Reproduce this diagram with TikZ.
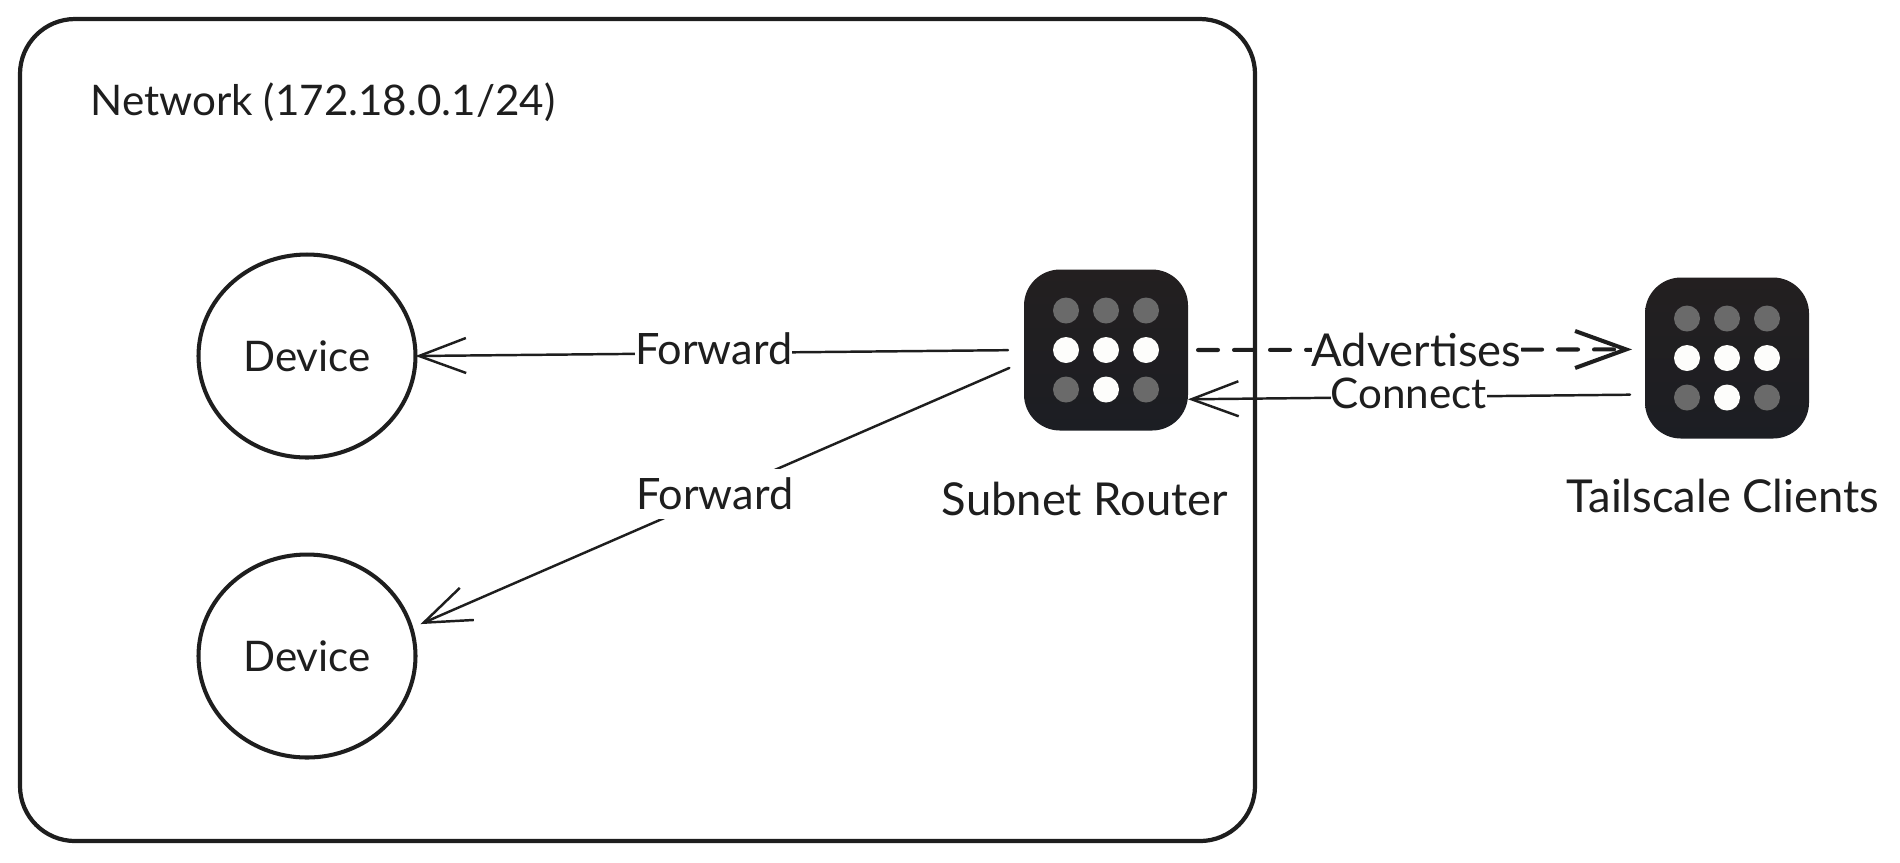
\documentclass[tikz,border=0pt]{standalone}
\usepackage{xcolor}
\usepackage{fontspec}
\setmainfont{Lato}
\usetikzlibrary{arrows.meta,positioning,shapes.geometric}

\definecolor{inkgray}{HTML}{1E1E1E}
\definecolor{dimdot}{HTML}{6A6A6A}
\definecolor{litdot}{HTML}{FDFDFB}
\definecolor{icontop}{HTML}{231F20}
\definecolor{iconbottom}{HTML}{1C1E23}

\tikzset{
  netbox/.style={draw=inkgray, line width=1.2pt, rounded corners=0.55cm, minimum width=12.35cm, minimum height=8.22cm, inner sep=0pt, outer sep=0pt},
  device/.style={draw=inkgray, line width=1.15pt, ellipse, minimum width=2.17cm, minimum height=2.03cm, inner sep=0pt, outer sep=0pt, font=\fontsize{12}{14}\selectfont, text=inkgray},
  icon/.style={rounded corners=0.36cm, top color=icontop, bottom color=iconbottom, minimum width=1.64cm, minimum height=1.61cm, inner sep=0pt, outer sep=0pt},
  caption/.style={font=\fontsize{12}{14}\selectfont, text=inkgray, inner sep=0pt},
  wire/.style={draw=inkgray, line width=0.7pt, line cap=round, -{Straight Barb[length=0.47cm,width=0.35cm]}},
  tag/.style={font=\fontsize{12.3}{14}\selectfont, text=inkgray, fill=white, inner sep=0pt, minimum height=0.5cm},
}

\newcommand{\gridicon}[1]{
  \begin{scope}[shift={(#1)}]
    \foreach \col in {-1,0,1} {
      \fill[dimdot] (\col*0.4,0.395) circle (0.13cm);
      \fill[litdot] (\col*0.4,0) circle (0.13cm);
    }
    \fill[dimdot] (-0.4,-0.395) circle (0.13cm);
    \fill[litdot] (0,-0.395) circle (0.13cm);
    \fill[dimdot] (0.4,-0.395) circle (0.13cm);
  \end{scope}
}

\begin{document}
\begin{tikzpicture}
  \useasboundingbox (0,0) rectangle (19,-8.62);

  \node[netbox] (network) at (6.375,-4.30) {};
  \node[caption, anchor=west] (nettitle) at (0.90,-1.02) {Network (172.18.0.1/24)};

  \node[device] (device1) at (3.07,-3.56) {Device};
  \node[device, on grid, below=3cm of device1] (device2) {Device};

  \node[icon] (router) at (11.06,-3.50) {};
  \node[icon, on grid, right=6.21cm of router, yshift=-0.08cm] (client) {};
  \gridicon{router}
  \gridicon{client}

  \node[caption, on grid, below=1.49cm of router, xshift=-0.21cm, font=\fontsize{12.9}{14}\selectfont] (routerlabel) {Subnet Router};
  \node[caption, on grid, below=1.38cm of client, xshift=-0.04cm, font=\fontsize{12.9}{14}\selectfont] (clientlabel) {Tailscale Clients};

  \draw[wire, shorten <=0.16cm] (router.180) -- node[tag, pos=0.51, yshift=0.04cm] (fwdtop) {Forward} (device1.east);
  \draw[wire, shorten <=0.16cm, shorten >=0.1cm] (router.188) -- node[tag, pos=0.505, yshift=0.02cm] (fwdlow) {Forward} (device2.15);
  \draw[wire, line width=1.15pt, dash pattern=on 0.2cm off 0.16cm, shorten <=0.1cm, shorten >=0.13cm, -{Straight Barb[length=0.51cm,width=0.37cm]}]
    (router.east) -- node[tag, pos=0.5, font=\fontsize{12.9}{14}\selectfont] (advert) {Advertises} (client.174);
  \draw[wire, shorten <=0.15cm] (client.204) -- node[tag, pos=0.517, yshift=0.04cm, font=\fontsize{12}{14}\selectfont] (connect) {Connect} (router.-31);
\end{tikzpicture}
\end{document}
